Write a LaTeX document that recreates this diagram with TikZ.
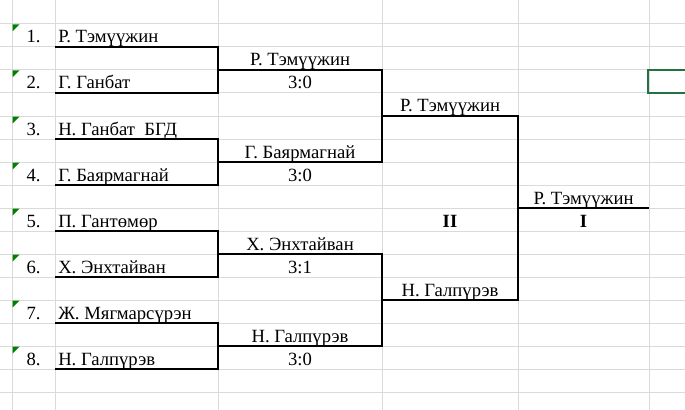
\documentclass[tikz,border=0pt]{standalone}
\usepackage{fontspec}
\setmainfont{Liberation Serif}
\definecolor{gridgray}{RGB}{218,218,218}
\definecolor{flaggreen}{RGB}{0,128,0}
\definecolor{selgreen}{RGB}{33,115,70}

\begin{document}
\begin{tikzpicture}[x=0.75pt,y=-0.75pt,
  grid/.style={draw=gridgray,line width=0.75pt},
  bracket/.style={draw=black,line width=0.9pt},
  txt/.style={inner sep=0pt,font=\fontsize{14}{16}\selectfont},
  num/.style={txt,anchor=base},
  player/.style={txt,anchor=base west},
  result/.style={txt,anchor=base}]
  \fill[white] (0,0) rectangle (685,410);
  \useasboundingbox (0,0) rectangle (685,410);
  % sheet grid
  \foreach \x in {12,55,218,382,518,649}
    \draw[grid] (\x,0) -- (\x,410);
  \foreach \y in {24,47,...,392}
    \draw[grid] (0,\y) -- (685,\y);
  % players
  \foreach \i/\name in {1/{Р. Тэмүүжин},2/{Г. Ганбат},3/{Н. Ганбат\ \ БГД},4/{Г. Баярмагнай},
                        5/{П. Гантөмөр},6/{Х. Энхтайван},7/{Ж. Мягмарсүрэн},8/{Н. Галпүрэв}}
  {
    \fill[flaggreen] (12.5,{46*\i-21.5}) -- ++(7,0) -- ++(-7,7) -- cycle;
    \node[num] (n\i) at (33.5,{46*\i-3}) {\i.};
    \node[player] (p\i) at (58,{46*\i-3}) {\name};
    \coordinate (l\i) at (55,{46*\i+1});
    \coordinate (r\i) at (218,{46*\i+1});
  }
  % first round
  \foreach \j/\name/\score in {1/{Р. Тэмүүжин}/3:0,2/{Г. Баярмагнай}/3:0,
                               3/{Х. Энхтайван}/3:1,4/{Н. Галпүрэв}/3:0}
  {
    \node[result] (w\j) at (300,{92*\j-26}) {\name};
    \node[result] (s\j) at (300,{92*\j-3}) {\score};
    \coordinate (a\j) at (218,{92*\j-22});
    \coordinate (b\j) at (382,{92*\j-22});
  }
  \foreach \j in {1,3,5,7}
    \pgfmathtruncatemacro{\k}{\j+1}
    \draw[bracket] (l\j) -- (r\j) -- (r\k) -- (l\k);
  % semi-finals
  \foreach \j/\k in {1/2,3/4}
    \draw[bracket] (a\j) -- (b\j) -- (b\k) -- (a\k);
  \foreach \k/\name in {1/{Р. Тэмүүжин},2/{Н. Галпүрэв}}
  {
    \node[result] (v\k) at (450,{184*\k-72}) {\name};
    \coordinate (c\k) at (382,{184*\k-68});
    \coordinate (d\k) at (518,{184*\k-68});
  }
  \draw[bracket] (c1) -- (d1) -- (d2) -- (c2);
  \node[result,font=\fontsize{14}{16}\selectfont\bfseries] (second) at (450,227) {II};
  % final
  \coordinate (e) at (518,208);
  \coordinate (f) at (649,208);
  \draw[bracket] (e) -- (f);
  \node[result] (champ) at (583.5,204) {Р. Тэмүүжин};
  \node[result,font=\fontsize{14}{16}\selectfont\bfseries] (first) at (583.5,227) {I};
  % selected cell
  \draw[selgreen,line width=1.5pt] (648,70) rectangle (690,93);
\end{tikzpicture}
\end{document}
